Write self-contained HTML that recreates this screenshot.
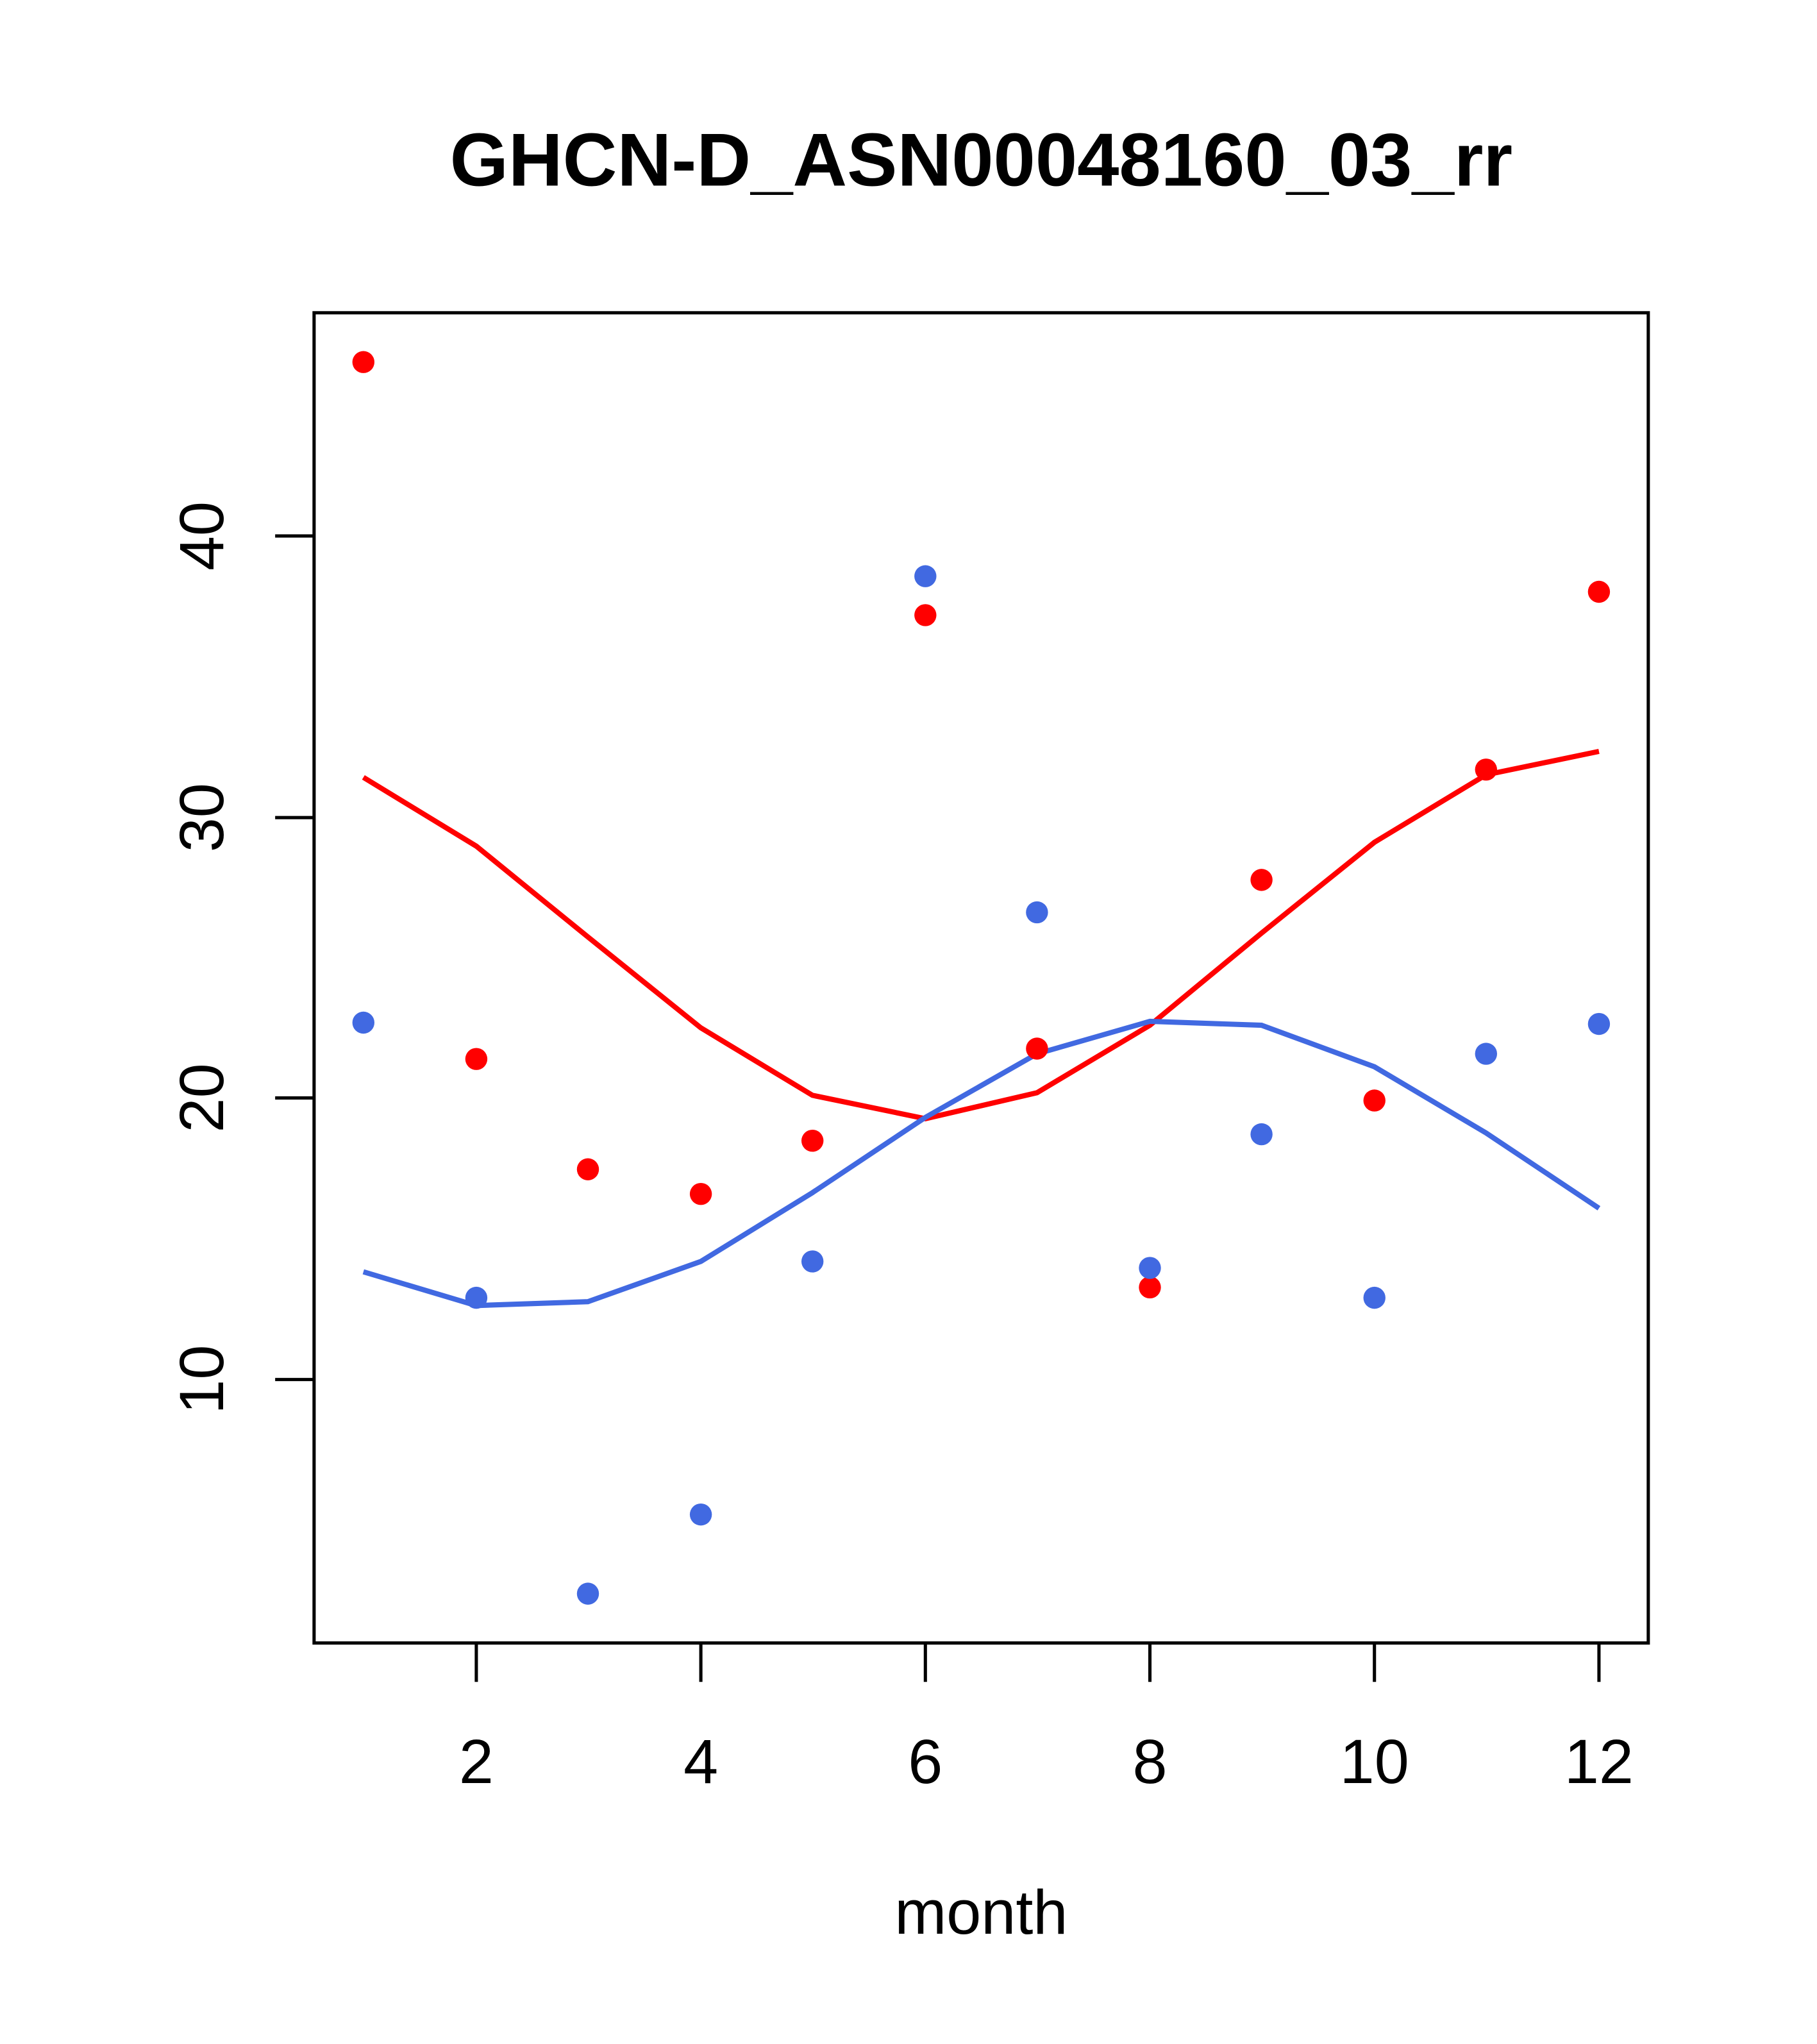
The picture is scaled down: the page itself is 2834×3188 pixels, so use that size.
<!DOCTYPE html>
<html><head><style>html,body{margin:0;padding:0;background:#fff}svg{display:block}</style></head>
<body>
<svg width="2834" height="3188" viewBox="0 0 1400 1575" preserveAspectRatio="none" xmlns="http://www.w3.org/2000/svg" font-family="Liberation Sans, sans-serif">
<rect width="1400" height="1575" fill="#fff"/>
<text x="756" y="143" font-size="58" font-weight="bold" text-anchor="middle">GHCN-D_ASN00048160_03_rr</text>
<rect x="242" y="241" width="1028" height="1025" fill="none" stroke="#000" stroke-width="2.5"/>
<g stroke="#000" stroke-width="2.5">
<line x1="367" y1="1266" x2="367" y2="1296"/><line x1="540" y1="1266" x2="540" y2="1296"/>
<line x1="713" y1="1266" x2="713" y2="1296"/><line x1="886" y1="1266" x2="886" y2="1296"/>
<line x1="1059" y1="1266" x2="1059" y2="1296"/><line x1="1232" y1="1266" x2="1232" y2="1296"/>
<line x1="242" y1="413" x2="212" y2="413"/><line x1="242" y1="630" x2="212" y2="630"/>
<line x1="242" y1="846" x2="212" y2="846"/><line x1="242" y1="1063" x2="212" y2="1063"/>
</g>
<g font-size="48" text-anchor="middle">
<text x="367" y="1374">2</text><text x="540" y="1374">4</text><text x="713" y="1374">6</text>
<text x="886" y="1374">8</text><text x="1059" y="1374">10</text><text x="1232" y="1374">12</text>
<text transform="translate(172,413) rotate(-90)">40</text>
<text transform="translate(172,630) rotate(-90)">30</text>
<text transform="translate(172,846) rotate(-90)">20</text>
<text transform="translate(172,1063) rotate(-90)">10</text>
<text x="756" y="1490">month</text>
</g>
<polyline fill="none" stroke="#ff0000" stroke-width="4" points="280,599 367,652 453,722 540,792 626,844 713,862 799,842 886,790 972,719 1059,649 1145,597 1232,579"/>
<polyline fill="none" stroke="#4169e1" stroke-width="4" points="280,980 367,1006 453,1003 540,972 626,919 713,861 799,812 886,787 972,790 1059,822 1145,873 1232,931"/>
<g fill="#ff0000">
<circle cx="280" cy="279" r="8.5"/><circle cx="367" cy="816" r="8.5"/><circle cx="453" cy="901" r="8.5"/><circle cx="540" cy="920" r="8.5"/><circle cx="626" cy="879" r="8.5"/><circle cx="713" cy="474" r="8.5"/><circle cx="799" cy="808" r="8.5"/><circle cx="886" cy="992" r="8.5"/><circle cx="972" cy="678" r="8.5"/><circle cx="1059" cy="848" r="8.5"/><circle cx="1145" cy="593" r="8.5"/><circle cx="1232" cy="456" r="8.5"/>
</g>
<g fill="#4169e1">
<circle cx="280" cy="788" r="8.5"/><circle cx="367" cy="1000" r="8.5"/><circle cx="453" cy="1228" r="8.5"/><circle cx="540" cy="1167" r="8.5"/><circle cx="626" cy="972" r="8.5"/><circle cx="713" cy="444" r="8.5"/><circle cx="799" cy="703" r="8.5"/><circle cx="886" cy="977" r="8.5"/><circle cx="972" cy="874" r="8.5"/><circle cx="1059" cy="1000" r="8.5"/><circle cx="1145" cy="812" r="8.5"/><circle cx="1232" cy="789" r="8.5"/>
</g>
</svg>
</body></html>
